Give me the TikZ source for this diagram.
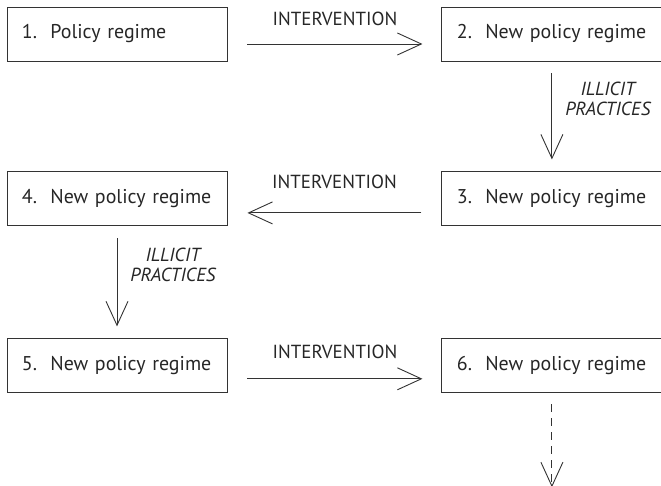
\documentclass[tikz,border=0pt]{standalone}
\usepackage{fontspec}
\setmainfont{PT Sans}
\usetikzlibrary{positioning,arrows.meta}
\begin{document}
\begin{tikzpicture}[
x=1bp, y=-1bp,
regime/.style={rectangle, draw=black!80, line width=0.9bp, minimum height=54bp, text width=190bp, inner xsep=15bp, align=left, text=black!85, font=\fontsize{20}{24}\selectfont},
move/.style={draw=black!80, line width=0.9bp, -{Straight Barb[length=24bp, width=22bp]}},
intervention/.style={midway, above=20bp, inner sep=0pt, text=black!85, font=\fontsize{19}{22}\selectfont},
illicit/.style={pos=0.3, right=13bp, inner sep=0pt, align=center, text=black!85, font=\fontsize{19}{20}\selectfont\itshape},
]
\useasboundingbox (0,0) rectangle (661,486);
\node[regime] (p1) at (117,34) {1.\ \ Policy regime};
\node[regime] (p2) [right=214bp of p1] {2.\ \ New policy regime};
\node[regime] (p3) [below=110bp of p2] {3.\ \ New policy regime};
\node[regime] (p4) [left=214bp of p3] {4.\ \ New policy regime};
\node[regime] (p5) [below=112bp of p4] {5.\ \ New policy regime};
\node[regime] (p6) [right=214bp of p5] {6.\ \ New policy regime};
\coordinate (next) at ([yshift=-94bp]p6.south);

\draw[move] ([xshift=20bp,yshift=-10bp]p1.east) -- ([xshift=-19bp,yshift=-10bp]p2.west)
    node[intervention, above=18bp] {INTERVENTION};
\draw[move] ([yshift=-12bp]p2.south) -- ([yshift=12bp]p3.north)
    node[illicit] {ILLICIT\\PRACTICES};
\draw[move] ([xshift=-20bp,yshift=-14bp]p3.west) -- ([xshift=20bp,yshift=-14bp]p4.east)
    node[intervention, above=24bp] {INTERVENTION};
\draw[move] ([yshift=-12bp]p4.south) -- ([yshift=12bp]p5.north)
    node[illicit] {ILLICIT\\PRACTICES};
\draw[move] ([xshift=20bp,yshift=-13bp]p5.east) -- ([xshift=-19bp,yshift=-13bp]p6.west)
    node[intervention] {INTERVENTION};
\draw[move, dashed, dash pattern=on 8bp off 6bp] ([yshift=-11bp]p6.south) -- (next);
\end{tikzpicture}
\end{document}
